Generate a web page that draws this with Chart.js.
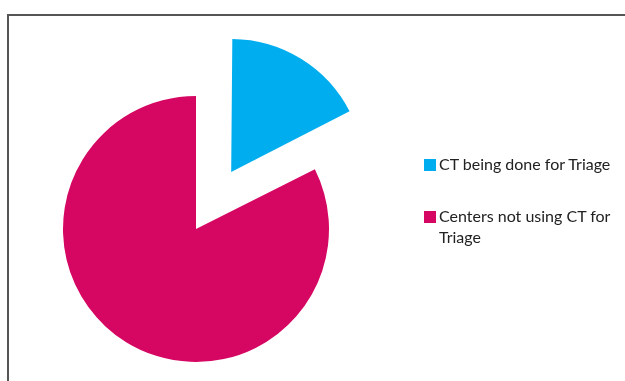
<!DOCTYPE html>
<html>
<head>
<meta charset="utf-8">
<script src="https://cdn.jsdelivr.net/npm/chart.js@4/dist/chart.umd.min.js"></script>
<style>
  html, body { margin: 0; padding: 0; background: #fff; }
  #wrap { position: relative; width: 625px; height: 381px; overflow: hidden; }
  #frame { position: absolute; left: 7px; top: 14px; width: 640px; height: 400px;
           border-top: 2px solid #555; border-left: 2px solid #555; }
  #pie { position: absolute; left: 0; top: 0; }
  #legend { position: absolute; left: 424px; top: 154px; width: 200px;
            font-family: Lato, "Open Sans", sans-serif; font-size: 16px; color: #222; }
  .item { display: flex; align-items: flex-start; line-height: 20.5px; margin-bottom: 31.5px; }
  .box { width: 12px; height: 12px; flex: none; margin: 5px 3px 0 0; }
</style>
</head>
<body>
<div id="wrap">
  <div id="frame"></div>
  <canvas id="pie" width="625" height="381"></canvas>
  <div id="legend"></div>
</div>
<script>
// Share of centers (percent)
const labels = ['CT being done for Triage', 'Centers not using CT for Triage'];
const values = [17.6, 82.4];
const colors = ['#00AEEF', '#D60763'];
const offsets = [268, 0];

const legend = document.getElementById('legend');
labels.forEach((label, i) => {
    const item = document.createElement('div');
    item.className = 'item';
    const box = document.createElement('span');
    box.className = 'box';
    box.style.background = colors[i];
    const text = document.createElement('span');
    text.textContent = label;
    item.appendChild(box);
    item.appendChild(text);
    legend.appendChild(item);
});

// the arc grows a little when exploded; keep the pulled-out slice at the same radius
const keepRadius = {
    id: 'keepRadius',
    beforeDatasetsDraw(chart) {
        const meta = chart.getDatasetMeta(0);
        const base = meta.controller.outerRadius;
        meta.data.forEach(arc => {
            const off = (arc.options.offset || 0) / 4;
            const fix = 1 - Math.sin(Math.min(Math.PI, arc.circumference));
            arc.outerRadius = base - off * fix;
        });
    }
};

const ctx = document.getElementById('pie').getContext('2d');
new Chart(ctx, {
    type: 'pie',
    data: {
        labels: labels,
        datasets: [{
            data: values,
            backgroundColor: colors,
            borderWidth: 0,
            offset: offsets,
            clip: false
        }]
    },
    options: {
        responsive: false,
        animation: false,
        cutout: '0%',
        radius: 133,
        layout: { padding: { left: 0, right: 233, top: 89, bottom: 12 } },
        plugins: {
            legend: { display: false },
            tooltip: { enabled: false }
        }
    },
    plugins: [keepRadius]
});
</script>
</body>
</html>
